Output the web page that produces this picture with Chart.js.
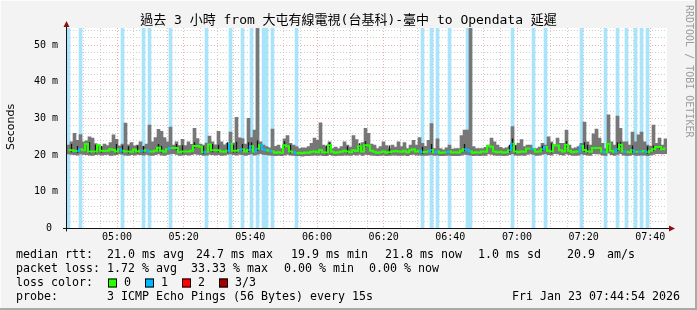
<!DOCTYPE html>
<html><head><meta charset="utf-8">
<script src="https://cdn.jsdelivr.net/npm/chart.js@4"></script>
<style>html,body{margin:0;padding:0;background:#f3f3f3;overflow:hidden}canvas{display:block}</style>
</head><body>
<canvas id="c" width="697" height="310"></canvas>
<script>
// ---------- data ----------
const titleText = '過去 3 小時 from 大屯有線電視(台基科)-臺中 to Opendata 延遲';
const startClockMin = 4 * 60 + 45;   // 04:45
const spanMin = 180;
const stepMin = 0.9;
const xTickLabels = ['05:00','05:20','05:40','06:00','06:20','06:40','07:00','07:20','07:40'];
const yMaxMs = 54.65;

const medianRtt = [
21.4,21.3,21.2,21.1,21.6,21.3,23.0,21.0,21.0,21.0,22.7,21.2,21.1,21.2,21.6,21.4,21.0,21.6,21.2,21.0,
21.0,20.9,21.5,21.0,21.2,21.2,21.3,21.0,21.0,21.2,22.0,21.2,20.9,21.6,21.9,21.9,21.9,20.8,21.0,21.0,
21.0,21.2,22.5,22.5,22.3,20.8,20.9,22.9,21.3,21.3,21.3,21.0,20.9,21.2,23.1,21.2,21.2,21.4,21.6,21.0,
21.4,22.4,21.0,21.7,22.7,21.5,21.3,21.2,21.0,20.6,20.8,20.6,22.7,22.4,21.0,20.8,20.5,20.6,20.5,20.7,
20.6,20.9,21.0,20.8,21.4,20.8,20.7,22.7,20.9,20.6,20.8,20.9,21.2,21.0,20.8,21.3,21.1,22.4,21.0,22.7,
22.6,21.2,20.9,20.6,20.8,21.0,20.7,20.8,21.0,21.1,21.0,20.9,21.2,20.8,21.3,21.6,21.0,21.2,20.8,20.9,
21.0,21.4,20.8,21.0,20.6,20.7,20.8,21.0,20.7,20.8,20.7,21.2,21.6,21.4,21.0,20.6,20.8,20.7,21.0,20.9,
22.5,22.3,21.0,20.8,20.9,20.7,20.8,21.3,23.1,21.0,20.8,21.0,20.9,21.8,21.8,21.6,20.9,21.0,21.6,22.2,
21.2,21.0,22.6,22.6,21.3,21.0,22.8,21.2,20.8,20.9,21.0,22.5,21.4,21.0,20.9,21.9,21.9,21.9,21.0,20.8,
23.1,21.2,20.9,21.6,22.8,21.0,20.9,20.8,21.3,20.9,20.9,21.0,21.1,20.8,21.2,21.6,22.2,22.2,21.6,21.8];

const smokeHigh = [
22.7,23.6,25.9,24.0,25.6,23.6,23.9,25.0,24.6,23.1,22.7,22.3,23.0,22.6,23.4,25.5,24.3,22.5,23.0,28.7,
22.8,23.4,22.5,22.7,23.6,22.4,23.0,28.2,23.6,24.8,27.0,26.5,24.8,23.6,27.6,22.7,23.6,22.6,24.3,22.6,
23.6,22.9,27.3,24.5,23.0,22.7,23.3,25.2,23.6,22.8,26.5,23.6,22.8,23.2,26.3,23.2,30.3,24.7,24.5,23.0,
30.0,24.8,26.8,58.0,23.6,22.7,22.3,22.0,27.1,22.4,22.7,21.8,24.4,25.3,23.2,22.7,22.3,21.8,22.0,21.9,
22.3,23.2,24.6,24.0,28.8,22.7,22.4,23.6,21.8,22.2,21.8,22.3,23.6,22.7,22.2,25.3,24.2,22.7,23.4,27.3,
25.9,23.0,22.7,21.8,22.3,23.6,22.6,21.8,22.7,22.2,23.6,22.3,23.4,21.8,22.7,24.0,22.7,24.8,23.2,22.4,
24.0,28.6,21.8,24.4,21.8,21.4,22.0,22.7,21.6,21.8,21.8,25.3,26.8,26.8,58.0,22.3,21.8,21.8,21.8,22.1,
22.7,24.6,23.6,22.7,22.1,21.8,22.0,22.3,27.8,22.7,23.2,24.2,22.3,22.7,22.7,21.8,21.8,22.2,23.2,22.7,
25.0,23.6,22.8,24.6,23.2,23.2,26.8,22.7,21.8,22.0,22.3,23.2,29.0,23.6,22.7,25.8,27.1,24.6,23.2,21.8,
31.0,23.6,22.7,30.6,27.3,23.6,23.6,22.7,26.3,23.6,25.5,26.3,23.6,22.7,22.4,28.2,23.2,24.6,22.7,24.4];

const smokeLow = [
20.3,20.2,20.1,20.0,20.3,20.2,20.1,20.0,19.9,20.1,20.2,20.0,20.1,20.2,19.9,20.0,20.1,20.3,20.2,20.0,
19.9,20.1,20.0,20.2,20.1,20.0,20.2,20.0,19.9,20.1,20.3,20.0,19.9,20.2,20.3,20.4,20.2,19.9,20.0,20.1,
20.0,20.1,20.3,20.2,20.1,19.9,20.0,20.2,20.1,20.0,20.1,19.9,20.0,20.2,20.3,20.1,20.0,20.2,20.1,19.9,
20.1,20.3,20.0,20.2,20.4,20.2,20.1,20.0,19.9,19.8,19.9,19.8,20.0,20.2,20.0,19.9,19.8,19.8,19.7,19.8,
19.8,19.9,20.0,19.9,20.0,19.8,19.8,20.1,19.9,19.8,19.9,19.9,20.0,20.0,19.9,20.1,20.0,20.2,19.9,20.2,
20.1,20.0,19.9,19.8,19.9,20.0,19.8,19.9,20.0,20.0,19.9,19.9,20.0,19.8,20.1,20.2,20.0,20.0,19.9,19.9,
20.0,20.1,19.9,20.0,19.8,19.8,19.9,20.0,19.8,19.8,19.8,20.0,20.2,20.1,20.0,19.8,19.9,19.8,19.9,19.9,
20.3,20.2,20.0,19.9,19.9,19.8,19.9,20.1,20.4,20.0,19.9,20.0,19.9,20.2,20.3,20.2,19.9,20.0,20.2,20.4,
20.1,20.0,20.4,20.3,20.1,20.0,20.3,20.1,19.9,19.9,20.0,20.3,20.1,20.0,19.9,20.4,20.3,20.3,20.0,19.9,
20.5,20.1,19.9,20.2,20.4,20.0,19.9,19.9,20.1,19.9,19.9,20.0,20.0,19.8,20.0,20.2,20.4,20.4,20.3,20.4];

const darkHigh = [
0,23.0,0,22.5,0,0,0,23.5,0,22.8,0,22.5,0,0,0,0,23.0,0,22.6,0,
22.4,0,0,22.6,0,22.5,0,0,0,0,23.0,22.5,0,0,0,0,23.0,0,22.7,0,
0,0,23.5,0,0,22.4,0,0,23.0,0,22.8,0,0,23.5,0,22.8,23.6,0,23.0,0,
23.5,23.5,0,24.0,0,0,0,0,0,0,0,0,23.8,0,22.8,0,0,0,0,0,
0,0,0,0,0,0,22.6,23.4,0,0,0,0,0,22.4,0,0,0,23.2,0,23.8,
0,0,0,0,0,0,0,22.6,0,0,0,0,0,0,0,0,0,0,22.3,0,
0,23.0,0,0,0,0,0,0,0,0,0,0,23.0,0,0,0,0,0,0,0,
0,0,0,0,0,0,0,22.8,24.5,22.6,0,0,0,0,0,0,0,0,22.6,0,
0,23.2,0,0,0,0,23.8,0,0,0,0,0,23.5,22.8,0,0,0,0,0,0,
0,0,0,23.5,23.6,0,0,0,22.6,0,0,0,0,22.4,0,22.6,0,22.5,0,0];

const pingsLost = [
1,0,0,0,1,0,0,0,0,0,0,0,0,0,0,0,0,0,1,0,
0,0,0,0,0,1,0,1,0,0,0,0,0,0,1,0,0,0,0,0,
0,0,0,0,0,0,1,0,0,0,0,0,0,0,1,0,0,0,1,0,
0,1,0,1,0,1,1,0,1,0,0,0,0,0,0,0,1,0,0,0,
0,0,0,0,0,0,0,0,0,0,0,0,0,0,0,0,0,0,0,0,
0,0,0,0,0,0,0,0,0,0,0,0,0,0,0,0,0,0,1,0,
0,1,0,1,0,0,0,1,0,0,0,0,0,1,1,0,0,0,0,0,
0,0,0,0,0,0,0,0,1,0,0,0,0,0,0,1,0,0,0,1,
0,0,0,0,0,0,0,0,0,0,0,1,0,0,0,0,0,0,0,1,
0,0,0,1,0,0,1,0,0,1,0,1,0,1,0,0,0,0,0,0];

const medianLegend = ['median rtt:','21.0 ms avg','24.7 ms max','19.9 ms min','21.8 ms now','1.0 ms sd','20.9','am/s'];
const lossLegend = ['packet loss:','1.72 % avg','33.33 % max','0.00 % min','0.00 % now'];
const lossColorNames = ['0','1','2','3/3'];
const lossColors = ['#26ff00','#00b8ff','#ff0000','#a00000'];
const probeLegend = ['probe:','3 ICMP Echo Pings (56 Bytes) every 15s','Fri Jan 23 07:44:54 2026'];

// ---------- chart ----------
const MONO = '"DejaVu Sans Mono", monospace';
const GREEN = lossColors[0], BLUE = lossColors[1];
const PINK = 'rgba(225,110,110,0.55)';
const GRAY = '#cdcdcd';
const CLEAR = 'rgba(0,0,0,0)';
const xs = medianRtt.map((_, i) => (i + 0.5) * stepMin);
const clockOf = v => { const m = Math.round(startClockMin + v); return String(Math.floor(m/60)).padStart(2,'0') + ':' + String(m%60).padStart(2,'0'); };

const rrdPlugin = {
  id: 'rrd',
  beforeDraw(chart) {
    const { ctx, chartArea: a } = chart;
    ctx.save();
    ctx.fillStyle = '#f3f3f3';
    ctx.fillRect(0, 0, chart.width, chart.height);
    ctx.fillStyle = '#ffffff';
    ctx.fillRect(a.left, a.top, a.right - a.left, a.bottom - a.top);
    ctx.restore();
  },
  afterDraw(chart) {
    const { ctx, chartArea: a } = chart;
    ctx.save();
    // axes
    ctx.strokeStyle = '#111';
    ctx.lineWidth = 1;
    const lx = Math.round(a.left) - 0.5;
    const by = Math.round(a.bottom) + 0.5;
    ctx.beginPath();
    ctx.moveTo(lx, a.bottom + 3);
    ctx.lineTo(lx, a.top - 2);
    ctx.moveTo(a.left - 4, by);
    ctx.lineTo(a.right + 3, by);
    ctx.stroke();
    ctx.fillStyle = '#8b1010';
    ctx.beginPath();
    ctx.moveTo(lx - 3, a.top - 1); ctx.lineTo(lx + 3, a.top - 1); ctx.lineTo(lx, a.top - 7); ctx.closePath(); ctx.fill();
    ctx.beginPath();
    ctx.moveTo(a.right + 2, by - 3); ctx.lineTo(a.right + 2, by + 3); ctx.lineTo(a.right + 8, by); ctx.closePath(); ctx.fill();

    // title
    ctx.fillStyle = '#000';
    ctx.textBaseline = 'middle';
    ctx.textAlign = 'center';
    ctx.font = '13px "DejaVu Sans Mono", "Noto Sans CJK TC", monospace';
    ctx.fillText(titleText, 348.5, 21);

    // y axis title
    ctx.save();
    ctx.translate(11, 127);
    ctx.rotate(-Math.PI / 2);
    ctx.font = '11px "DejaVu Sans", sans-serif';
    ctx.fillText('Seconds', 0, 0);
    ctx.restore();

    // watermark
    ctx.save();
    ctx.translate(688.5, 5);
    ctx.rotate(Math.PI / 2);
    ctx.textAlign = 'left';
    ctx.fillStyle = '#9c9c9c';
    ctx.font = '10px ' + MONO;
    ctx.fillText('RRDTOOL / TOBI OETIKER', 0, 0);
    ctx.restore();

    // legend
    ctx.textAlign = 'left';
    ctx.fillStyle = '#000';
    ctx.font = '11.63px ' + MONO;
    const row1 = [16, 107, 196, 291, 385, 478, 567, 607];
    medianLegend.forEach((t, i) => ctx.fillText(t, row1[i], 255));
    const row2 = [16, 107, 191, 284, 369];
    lossLegend.forEach((t, i) => ctx.fillText(t, row2[i], 269));
    ctx.fillText('loss color:', 16, 283);
    const sq = [108, 145, 182, 219];
    lossColorNames.forEach((t, i) => {
      ctx.fillStyle = lossColors[i];
      ctx.fillRect(sq[i], 278.5, 9, 9);
      ctx.strokeStyle = '#000';
      ctx.strokeRect(sq[i] + 0.5, 278.5 + 0.5, 8, 8);
      ctx.fillStyle = '#000';
      ctx.fillText(t, sq[i] + 16, 283);
    });
    ctx.fillText(probeLegend[0], 16, 297);
    ctx.fillText(probeLegend[1], 107, 297);
    ctx.textAlign = 'right';
    ctx.fillText(probeLegend[2], 680, 297);

    // frame
    ctx.fillStyle = '#fcfcfc';
    ctx.fillRect(0, 0, chart.width, 1);
    ctx.fillRect(0, 0, 1, chart.height);
    ctx.fillStyle = '#a9a9a9';
    ctx.fillRect(chart.width - 2, 0, 2, chart.height);
    ctx.fillRect(0, chart.height - 2, chart.width, 2);
    ctx.restore();
  }
};

const barCommon = { grouped: false, barPercentage: 1, categoryPercentage: 1, borderWidth: 0 };

const xGridColor = c => {
  if (!c || !c.tick) return CLEAR;
  const v = c.tick.value;
  if (v <= 0 || v >= spanMin) return CLEAR;
  return (startClockMin + Math.round(v)) % 20 === 0 ? PINK : GRAY;
};
const yGridColor = c => {
  if (!c || !c.tick) return CLEAR;
  const v = c.tick.value;
  if (v === 0) return CLEAR;
  return v % 10 === 0 ? PINK : GRAY;
};

new Chart(document.getElementById('c'), {
  type: 'bar',
  data: {
    datasets: [
      Object.assign({ label: 'loss', order: 4, backgroundColor: '#a9e4fa',
        data: xs.map((x, i) => ({ x, y: pingsLost[i] ? [0, 100] : null })) }, barCommon),
      Object.assign({ label: 'smoke', order: 3, backgroundColor: '#777777',
        data: xs.map((x, i) => ({ x, y: [smokeLow[i], smokeHigh[i]] })) }, barCommon),
      Object.assign({ label: 'dark', order: 2, backgroundColor: '#141414',
        data: xs.map((x, i) => ({ x, y: darkHigh[i] ? [medianRtt[i] - 0.5, darkHigh[i]] : null })) }, barCommon, { barPercentage: 0.45 }),
      { type: 'line', label: 'median', order: 1, stepped: 'middle', borderWidth: 2, pointRadius: 0,
        borderColor: GREEN,
        segment: { borderColor: c => pingsLost[c.p1DataIndex] ? BLUE : GREEN },
        data: xs.map((x, i) => ({ x, y: medianRtt[i] })) }
    ]
  },
  options: {
    responsive: false,
    animation: false,
    devicePixelRatio: 1,
    events: [],
    layout: { padding: { left: 0, right: 30, top: 28, bottom: 0 } },
    plugins: { legend: { display: false }, tooltip: { enabled: false }, title: { display: false } },
    scales: {
      x: {
        type: 'linear', min: 0, max: spanMin, offset: false,
        afterFit: s => { s.height = 310 - 228.4; s.paddingLeft = 0; s.paddingRight = 0; },
        ticks: { stepSize: 5, autoSkip: false, maxRotation: 0, padding: 3, color: '#000',
          font: { family: MONO, size: 10 },
          callback: v => xTickLabels.includes(clockOf(v)) ? clockOf(v) : '' },
        grid: { offset: false, drawTicks: false, lineWidth: 1, color: xGridColor },
        border: { display: false, dash: [1, 2] }
      },
      y: {
        min: 0, max: yMaxMs,
        afterFit: s => { s.width = 67; s.paddingTop = 0; s.paddingBottom = 0; },
        ticks: { stepSize: 2, includeBounds: false, autoSkip: false, padding: 9, color: '#000',
          font: { family: MONO, size: 10 },
          callback: v => (v % 10 === 0) ? (v === 0 ? '0 ' : v + ' m') : '' },
        grid: { drawTicks: false, lineWidth: 1, color: yGridColor },
        border: { display: false, dash: [1, 2] }
      }
    }
  },
  plugins: [rrdPlugin]
});
</script>
</body></html>
